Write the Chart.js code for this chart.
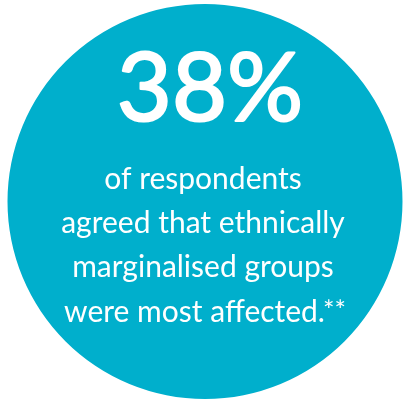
<!DOCTYPE html>
<html><head><meta charset="utf-8">
<script src="https://cdn.jsdelivr.net/npm/chart.js@4/dist/chart.umd.min.js"></script>
<style>html,body{margin:0;padding:0;background:#fff;}#wrap{width:403px;height:400px;}</style>
</head><body><div id="wrap"><canvas id="c" width="403" height="400"></canvas></div>
<script>
const categories = ["Agreed"];
const values = [100];
const headline = "38%";
const bodyLines = ["of respondents", "agreed that ethnically", "marginalised groups", "were most affected."];
const footnoteMark = "**";

const textPlugin = {
  id: 'centerText',
  afterDraw(chart) {
    const ctx = chart.ctx;
    const cx = 203;
    ctx.save();
    ctx.fillStyle = '#ffffff';
    ctx.strokeStyle = '#ffffff';
    ctx.textAlign = 'center';
    ctx.textBaseline = 'alphabetic';
    ctx.font = '400 95px Lato';
    ctx.lineWidth = 2.2;
    ctx.lineJoin = 'round';
    ctx.fillText(headline, cx + 7, 121);
    ctx.strokeText(headline, cx + 7, 121);
    const baselines = [189, 233, 277, 322];
    bodyLines.forEach((t, i) => {
      ctx.font = '30px Lato';
      if (i === bodyLines.length - 1) {
        const w = ctx.measureText(t).width;
        ctx.font = '27px Lato';
        const w2 = ctx.measureText(footnoteMark).width;
        const start = cx + 3 - (w + w2) / 2;
        ctx.textAlign = 'left';
        ctx.font = '30px Lato';
        ctx.fillText(t, start, baselines[i]);
        ctx.font = '27px Lato';
        ctx.fillText(footnoteMark, start + w - 2, baselines[i] - 2);
      } else {
        ctx.fillText(t, cx, baselines[i]);
      }
    });
    ctx.restore();
  }
};

new Chart(document.getElementById('c'), {
  type: 'pie',
  data: { labels: categories, datasets: [{ data: values, backgroundColor: ['#00AFCC'], borderWidth: 0 }] },
  options: {
    responsive: false,
    animation: false,
    layout: { padding: { left: 7, right: 0, top: 4, bottom: 1 } },
    plugins: { legend: { display: false }, tooltip: { enabled: false } }
  },
  plugins: [textPlugin]
});
</script></body></html>
